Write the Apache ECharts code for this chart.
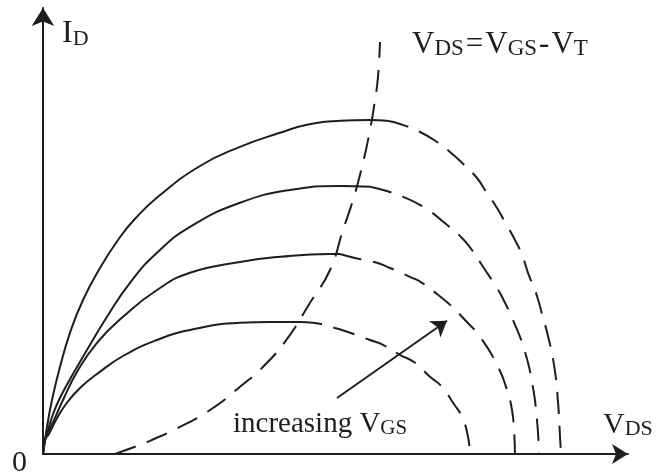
<!DOCTYPE html>
<html><head><meta charset="utf-8">
<script src="https://cdn.jsdelivr.net/npm/echarts@6/dist/echarts.min.js"></script>
<style>html,body{margin:0;padding:0;background:#fff}#c{width:656px;height:474px}</style>
</head><body><div id="c"></div>
<script>
// ---- data (V_DS, I_D) in arbitrary units ----
const curve1Triode = [[0,0],[0.04,0.35],[0.08,0.68],[0.18,1.35],[0.34,2.18],[0.54,3.03],[0.8,3.85],[1.14,4.65],[1.5,5.35],[1.84,5.88],[2.3,6.43],[3.14,7.2],[3.94,7.68],[4.74,8.03],[5.28,8.23],[5.94,8.33],[6.54,8.35],[6.88,8.33]];
const curve1Beyond = [[6.88,8.33],[7.14,8.25],[7.54,8.05],[7.88,7.8],[8.14,7.55],[8.38,7.28],[8.68,6.9],[8.84,6.6],[9.08,6.15],[9.24,5.8],[9.44,5.35],[9.58,4.98],[9.7,4.53],[9.88,3.95],[10.0,3.4],[10.08,3.05],[10.22,2.23],[10.3,1.3],[10.34,0.43],[10.36,0]];
const curve2Triode = [[0,0],[0.04,0.35],[0.08,0.5],[0.16,0.85],[0.3,1.3],[0.5,1.78],[0.88,2.6],[1.28,3.43],[1.74,4.28],[2.28,5.03],[2.94,5.68],[3.94,6.28],[4.94,6.6],[5.94,6.7],[6.54,6.68]];
const curve2Beyond = [[6.54,6.68],[6.8,6.6],[7.2,6.43],[7.64,6.15],[8.08,5.73],[8.38,5.4],[8.58,5.1],[8.8,4.68],[9.08,4.15],[9.24,3.78],[9.4,3.35],[9.62,2.63],[9.78,1.8],[9.88,0.85],[9.92,0]];
const curve3Triode = [[0,0],[0.04,0.35],[0.1,0.55],[0.22,0.85],[0.4,1.35],[0.68,2.05],[1.08,2.78],[1.6,3.43],[2.28,4.1],[2.94,4.53],[3.94,4.8],[4.74,4.93],[5.74,5.0],[5.94,5.0]];
const curve3Beyond = [[5.94,5.0],[6.24,4.9],[6.68,4.78],[6.94,4.65],[7.34,4.43],[7.58,4.28],[7.9,3.98],[8.14,3.73],[8.44,3.35],[8.74,2.93],[9.1,2.18],[9.28,1.6],[9.38,1.1],[9.42,0.6],[9.44,0]];
const curve4Triode = [[0,0],[0.04,0.35],[0.12,0.5],[0.26,0.85],[0.46,1.25],[0.74,1.65],[1.08,2.0],[1.6,2.45],[2.28,2.85],[2.94,3.1],[3.94,3.28],[4.54,3.3],[5.14,3.3]];
const curve4Beyond = [[5.14,3.3],[5.4,3.28],[5.84,3.15],[6.14,3.03],[6.54,2.85],[6.8,2.73],[7.14,2.48],[7.44,2.28],[7.74,1.93],[7.98,1.68],[8.2,1.28],[8.38,0.93],[8.5,0.43],[8.54,0]];
const pinchOff = [[1.44,0],[1.88,0.2],[2.14,0.33],[2.74,0.68],[3.34,1.1],[3.94,1.68],[4.48,2.28],[4.94,2.98],[5.34,3.78],[5.74,4.6],[6.0,5.6],[6.2,6.35],[6.38,7.18],[6.54,8.1],[6.64,8.85],[6.7,9.43],[6.74,10.3]];
const arrowFrom = [5.88, 1.4];
const arrowTo = [8.08, 3.33];
const xMax = 11.7, yMax = 11.15;
const originLabel = '0';

// ---- styles ----
const FONT = 'Liberation Serif';
const INK = '#1e1e1e';
const DASH = [22, 12];

function lineSeries(data, dashed) {
  return {
    type: 'line', data: data, symbol: 'none', smooth: 0.5, silent: true,
    lineStyle: {color: INK, width: 2, type: dashed ? DASH : 'solid'},
    emphasis: {disabled: true}
  };
}
// part: [text, kind]  kind 0 = main, 1 = subscript, 2 = operator
function label(parts, left, top, big, small) {
  const tag = ['m', 's', 'o'];
  let txt = parts.map(p => '{' + tag[p[1]] + '|' + p[0] + '}').join('');
  return {
    text: txt, left: left, top: top, padding: 0, itemGap: 0,
    textStyle: {fontWeight: 'normal', fontFamily: FONT, rich: {
      m: {fontFamily: FONT, fontWeight: 'normal', fontSize: big, color: INK, lineHeight: big + 4, verticalAlign: 'bottom'},
      o: {fontFamily: FONT, fontWeight: 'normal', fontSize: big, color: INK, lineHeight: big + 4, verticalAlign: 'bottom', padding: [0, 2, 0, 2]},
      s: {fontFamily: FONT, fontWeight: 'normal', fontSize: small, color: INK, lineHeight: small - 2, verticalAlign: 'bottom'}
    }}
  };
}

const chart = echarts.init(document.getElementById('c'), null, {renderer: 'canvas'});
const axisCommon = {
  type: 'value', min: 0,
  axisTick: {show: false}, axisLabel: {show: false}, splitLine: {show: false}
};
const arrowSeries = lineSeries([], false);
arrowSeries.markLine = {
  silent: true, animation: false,
  symbol: ['none', 'arrow'], symbolSize: 15,
  label: {show: false},
  lineStyle: {color: INK, width: 2, type: 'solid'},
  emphasis: {disabled: true},
  data: [[{coord: arrowFrom}, {coord: arrowTo}]]
};

chart.setOption({
  animation: false,
  backgroundColor: '#fff',
  grid: {left: 43, right: 28, top: 8, bottom: 20},
  xAxis: Object.assign({}, axisCommon, {
    max: xMax,
    axisLine: {show: true, onZero: false, symbol: ['none', 'arrow'], symbolSize: [15, 16], lineStyle: {color: INK, width: 2}}
  }),
  yAxis: Object.assign({}, axisCommon, {
    max: yMax,
    axisLine: {show: true, onZero: false, symbol: ['none', 'arrow'], symbolSize: [17, 18], lineStyle: {color: INK, width: 2}}
  }),
  title: [
    label([['I', 0], ['D', 1]], 62, 14, 32, 22),
    label([['V', 0], ['DS', 1], ['=', 2], ['V', 0], ['GS', 1], ['-', 2], ['V', 0], ['T', 1]], 412, 25, 31, 23),
    label([['V', 0], ['DS', 1]], 603, 406, 30, 22),
    label([['increasing V', 0], ['GS', 1]], 233, 406, 29, 21),
    {text: originLabel, left: 12, top: 448, padding: 0, textStyle: {fontFamily: FONT, fontSize: 30, fontWeight: 'normal', color: INK, lineHeight: 30}}
  ],
  series: [
    lineSeries(curve1Triode, false), lineSeries(curve1Beyond, true),
    lineSeries(curve2Triode, false), lineSeries(curve2Beyond, true),
    lineSeries(curve3Triode, false), lineSeries(curve3Beyond, true),
    lineSeries(curve4Triode, false), lineSeries(curve4Beyond, true),
    lineSeries(pinchOff, true),
    arrowSeries
  ]
});
</script>
</body></html>
